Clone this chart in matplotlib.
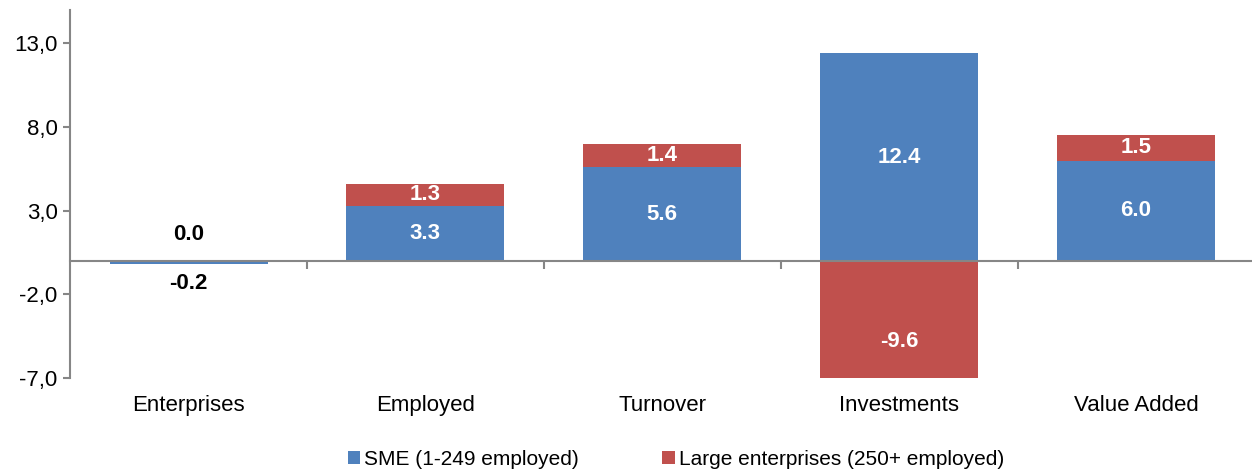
import numpy as np
import matplotlib
matplotlib.use("Agg")
import matplotlib.pyplot as plt
from matplotlib.patches import Patch
import matplotlib.transforms as mtransforms

categories = ["Enterprises", "Employed", "Turnover", "Investments", "Value Added"]
sme = [-0.2, 3.3, 5.6, 12.4, 6.0]
large = [0.0, 1.3, 1.4, -9.6, 1.5]
yticks = [-7.0, -2.0, 3.0, 8.0, 13.0]
series_names = ["SME (1-249 employed)", "Large enterprises (250+ employed)"]

BLUE = "#4F81BD"
RED = "#C0504D"
GRAY = "#868686"

plt.rcParams["font.family"] = ["Liberation Sans", "DejaVu Sans"]

fig = plt.figure(figsize=(12.52, 4.72), dpi=100)
ax = fig.add_axes([0.056, 0.199, 0.946, 0.78])

x = np.arange(len(categories))
sme_a = np.array(sme)
large_a = np.array(large)
w = 0.667

ax.bar(x, sme_a, width=w, color=BLUE, zorder=2)
bottom_large = np.where(large_a >= 0, np.maximum(sme_a, 0), np.minimum(sme_a, 0))
ax.bar(x, large_a, width=w, bottom=bottom_large, color=RED, zorder=2)

ax.set_xlim(-0.5, len(categories) - 0.5)
ax.set_ylim(-7.0, 15.0)
ax.set_yticks(yticks)
ax.set_yticklabels([f"{v:.1f}".replace(".", ",") for v in yticks], fontsize=16)

for s in ["top", "right"]:
    ax.spines[s].set_visible(False)
ax.spines["left"].set_color(GRAY)
ax.spines["left"].set_linewidth(1.5)
ax.spines["bottom"].set_position(("data", 0))
ax.spines["bottom"].set_color(GRAY)
ax.spines["bottom"].set_linewidth(1.5)
ax.spines["bottom"].set_zorder(3)
ax.tick_params(axis="y", direction="out", length=5, color=GRAY, width=1.5, pad=4)
ax.set_xticks(np.arange(len(categories)) + 0.5)
ax.set_xticklabels([])
ax.tick_params(axis="x", direction="out", length=6, color=GRAY, width=1.5)

trans = mtransforms.blended_transform_factory(ax.transData, ax.transAxes)
for xi, c in zip(x, categories):
    ax.text(xi, -0.075, c, transform=trans, ha="center", va="center", fontsize=16)

# Data labels
for xi, s_v, l_v, b in zip(x, sme_a, large_a, bottom_large):
    if abs(s_v) < 1.0:
        ax.annotate(f"{s_v:.1f}", (xi, min(s_v, 0)), xytext=(0, -14), textcoords="offset points",
                    ha="center", va="center", fontsize=16, fontweight="bold", color="black")
    else:
        ax.text(xi, s_v / 2, f"{s_v:.1f}", ha="center", va="center", fontsize=16,
                fontweight="bold", color="white", zorder=4)
    if abs(l_v) < 1.0:
        ax.annotate(f"{l_v:.1f}", (xi, max(b + l_v, 0)), xytext=(0, 19), textcoords="offset points",
                    ha="center", va="center", fontsize=16, fontweight="bold", color="black")
    else:
        ax.text(xi, b + l_v / 2, f"{l_v:.1f}", ha="center", va="center", fontsize=16,
                fontweight="bold", color="white", zorder=4)

handles = [Patch(facecolor=BLUE), Patch(facecolor=RED)]
fig.legend(handles, series_names, loc="center", bbox_to_anchor=(0.54, 0.027), ncol=2,
           frameon=False, fontsize=15, handlelength=0.6, handleheight=0.6, handletextpad=0.2,
           columnspacing=4.0)

fig.savefig("out.png", dpi=100)
